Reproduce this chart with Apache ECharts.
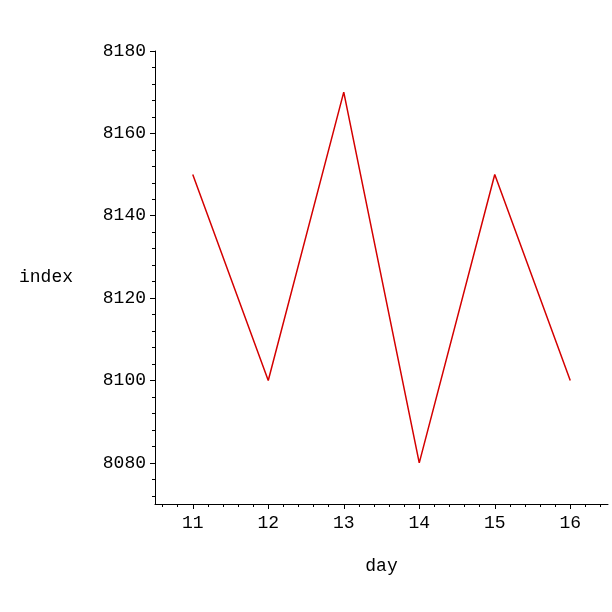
<!DOCTYPE html>
<html>
<head>
<meta charset="utf-8">
<script src="https://cdn.jsdelivr.net/npm/echarts@6/dist/echarts.min.js"></script>
<style>html,body{margin:0;padding:0;background:#fff}#c{width:612px;height:612px}</style>
</head>
<body>
<div id="c"></div>
<script>
const days = [11, 12, 13, 14, 15, 16];
const indexValues = [8150, 8100, 8170, 8080, 8150, 8100];
const xTickLabels = [11, 12, 13, 14, 15, 16];
const yTickLabels = [8080, 8100, 8120, 8140, 8160, 8180];

const font = 'Liberation Mono';
const chart = echarts.init(document.getElementById('c'));
chart.setOption({
  animation: false,
  backgroundColor: '#ffffff',
  grid: { left: 155, right: 4, top: 51, bottom: 108, containLabel: false },
  xAxis: {
    type: 'value', min: 10.5, max: 16.5, splitNumber: 5,
    name: 'day', nameLocation: 'middle', nameGap: 53,
    nameTextStyle: { fontFamily: font, fontSize: 18, color: '#000' },
    axisLine: { show: true, onZero: false, lineStyle: { color: '#000', width: 1 } },
    axisTick: { show: true, length: 5, customValues: xTickLabels, lineStyle: { color: '#000' } },
    minorTick: { show: true, splitNumber: 5, length: 3, lineStyle: { color: '#000' } },
    axisLabel: { customValues: xTickLabels, margin: 10, fontFamily: font, fontSize: 18, color: '#000',
      formatter: v => String(v) },
    splitLine: { show: false }, minorSplitLine: { show: false }
  },
  yAxis: {
    type: 'value', min: 8070, max: 8180, splitNumber: 5,
    name: 'index', nameLocation: 'middle', nameRotate: 0, nameGap: 82,
    nameTextStyle: { fontFamily: font, fontSize: 18, color: '#000' },
    axisLine: { show: true, onZero: false, lineStyle: { color: '#000', width: 1 } },
    axisTick: { show: true, length: 5, customValues: yTickLabels, lineStyle: { color: '#000' } },
    minorTick: { show: true, splitNumber: 5, length: 3, lineStyle: { color: '#000' } },
    axisLabel: { customValues: yTickLabels, margin: 9, fontFamily: font, fontSize: 18, color: '#000',
      formatter: v => String(v) },
    splitLine: { show: false }, minorSplitLine: { show: false }
  },
  series: [{
    type: 'line',
    data: days.map((d, i) => [d, indexValues[i]]),
    showSymbol: false, symbol: 'none',
    lineStyle: { color: '#d40000', width: 1.5 }
  }]
});
</script>
</body>
</html>
